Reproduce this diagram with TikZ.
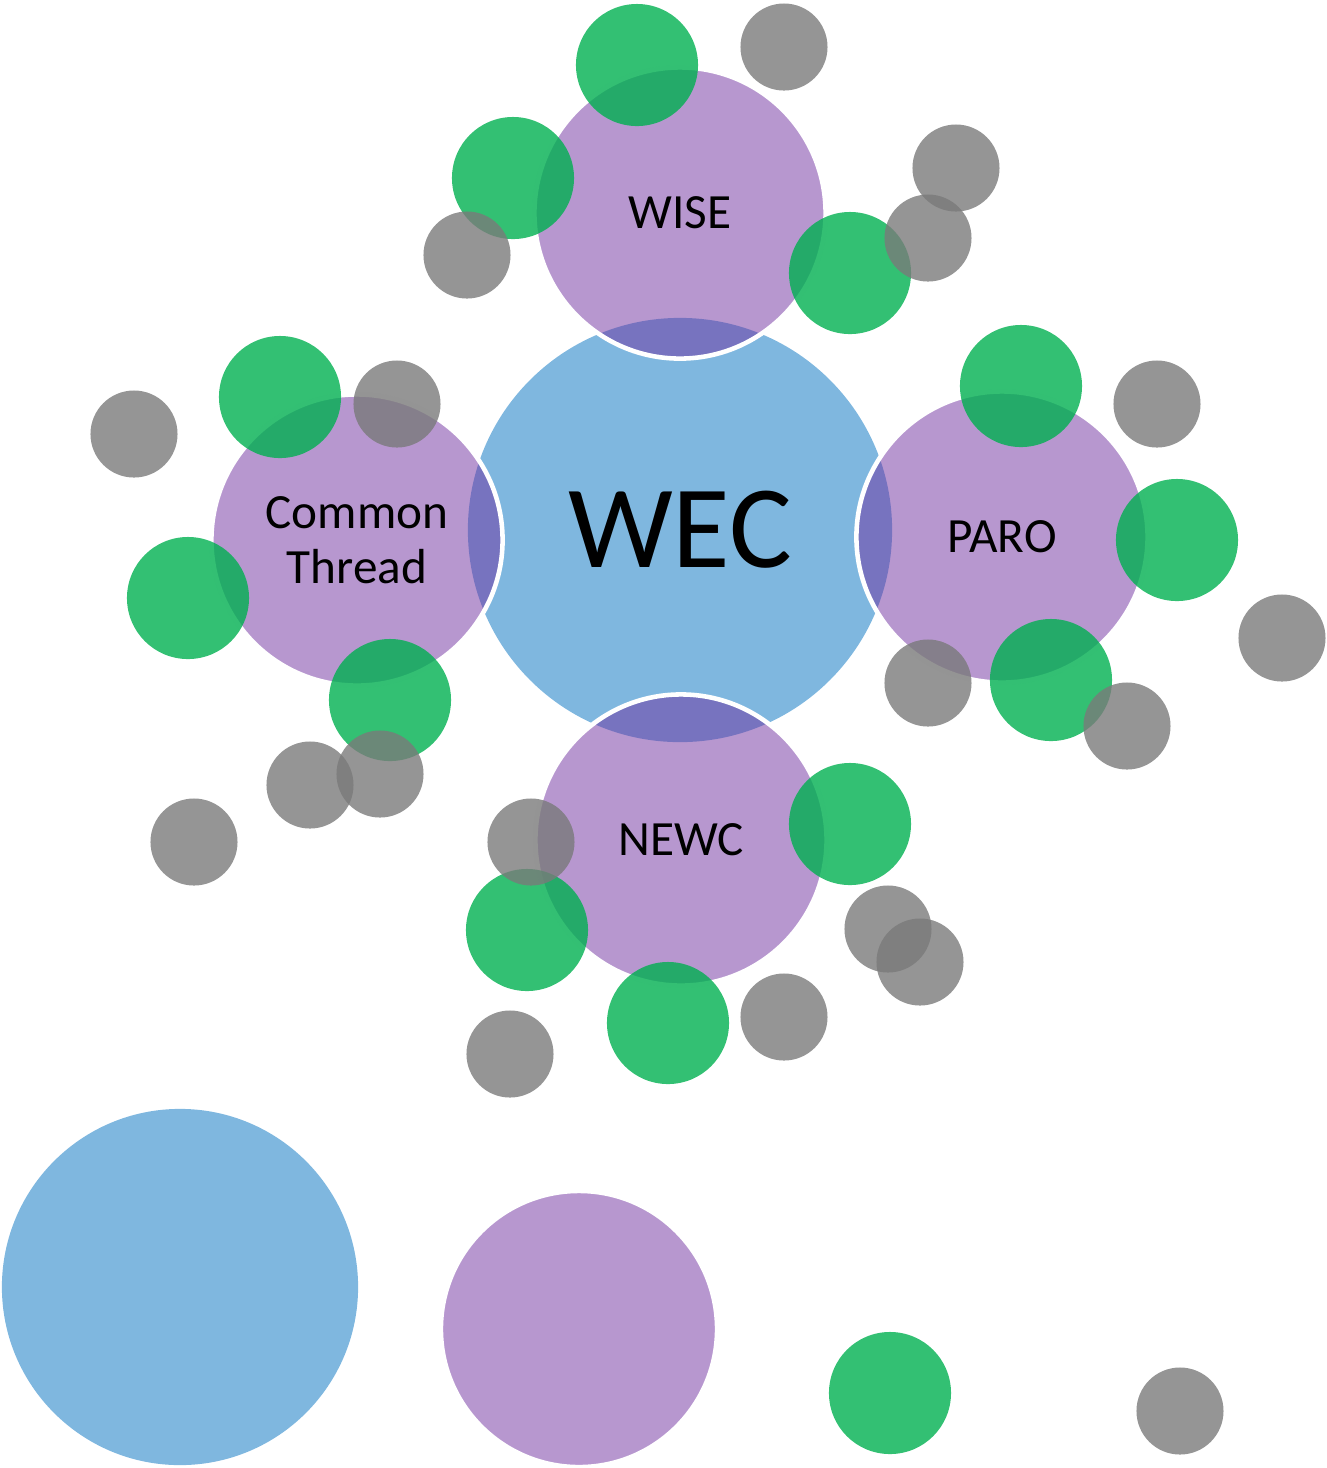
\documentclass[tikz,border=0pt]{standalone}
\usepackage{fontspec}
\setmainfont{Carlito}
\usepackage{tikz}
\definecolor{wecblue}{HTML}{0070C0}
\definecolor{grppurple}{HTML}{7030A0}
\definecolor{memgreen}{HTML}{00B050}
\definecolor{memgray}{HTML}{7A7A7A}
\tikzstyle{disc}=[circle, inner sep=0pt, text opacity=1, text=black]
\tikzstyle{hub}=[disc, fill=wecblue, fill opacity=0.5, minimum size=4.24cm, font=\fontsize{33.5}{36}\selectfont]
\tikzstyle{group}=[disc, fill=grppurple, fill opacity=0.5, draw=white, draw opacity=1, line width=1.3pt, minimum size=2.91cm, align=center, font=\fontsize{14}{15.6}\selectfont]
\tikzstyle{member}=[disc, fill=memgreen, fill opacity=0.8, minimum size=1.22cm]
\tikzstyle{guest}=[disc, fill=memgray, fill opacity=0.8, minimum size=0.87cm]

\begin{document}
\begin{tikzpicture}[x=0.01cm, y=-0.01cm]
    \useasboundingbox (0,0) rectangle (1327,1468);
    % the hub and its four groups
    \node[hub] (wec) at (680,530) {WEC};
    \node[group] (wise) at (680,213) {WISE};
    \node[group] (paro) at (1002,537) {PARO};
    \node[group] (newc) at (681,840) {NEWC};
    \node[group] (thread) at (357,540) {Common\\Thread};

    % green dots
    \foreach \x/\y [count=\i] in {637/65, 513/178, 850/273, 280/397, 188/598,
      390/700, 1021/386, 1177/540, 1051/680, 850/824, 527/930, 668/1023}{
      \node[member] (m\i) at (\x,\y) {};
    }
    % grey dots
    \foreach \x/\y [count=\i] in {784/47, 956/168, 928/238, 467/255, 134/434,
      397/404, 1157/404, 1282/638, 928/683, 1127/726, 310/785, 380/774,
      194/842, 531/842, 888/929, 920/962, 784/1017, 510/1054}{
      \node[guest] (g\i) at (\x,\y) {};
    }

    % key along the bottom
    \node[hub, minimum size=3.56cm] (keyhub) at (180,1287) {};
    \node[group, minimum size=2.76cm] (keygroup) at (579,1329) {};
    \node[member] (keymember) at (890,1393) {};
    \node[guest] (keyguest) at (1180,1411) {};
  \end{tikzpicture}
\end{document}
